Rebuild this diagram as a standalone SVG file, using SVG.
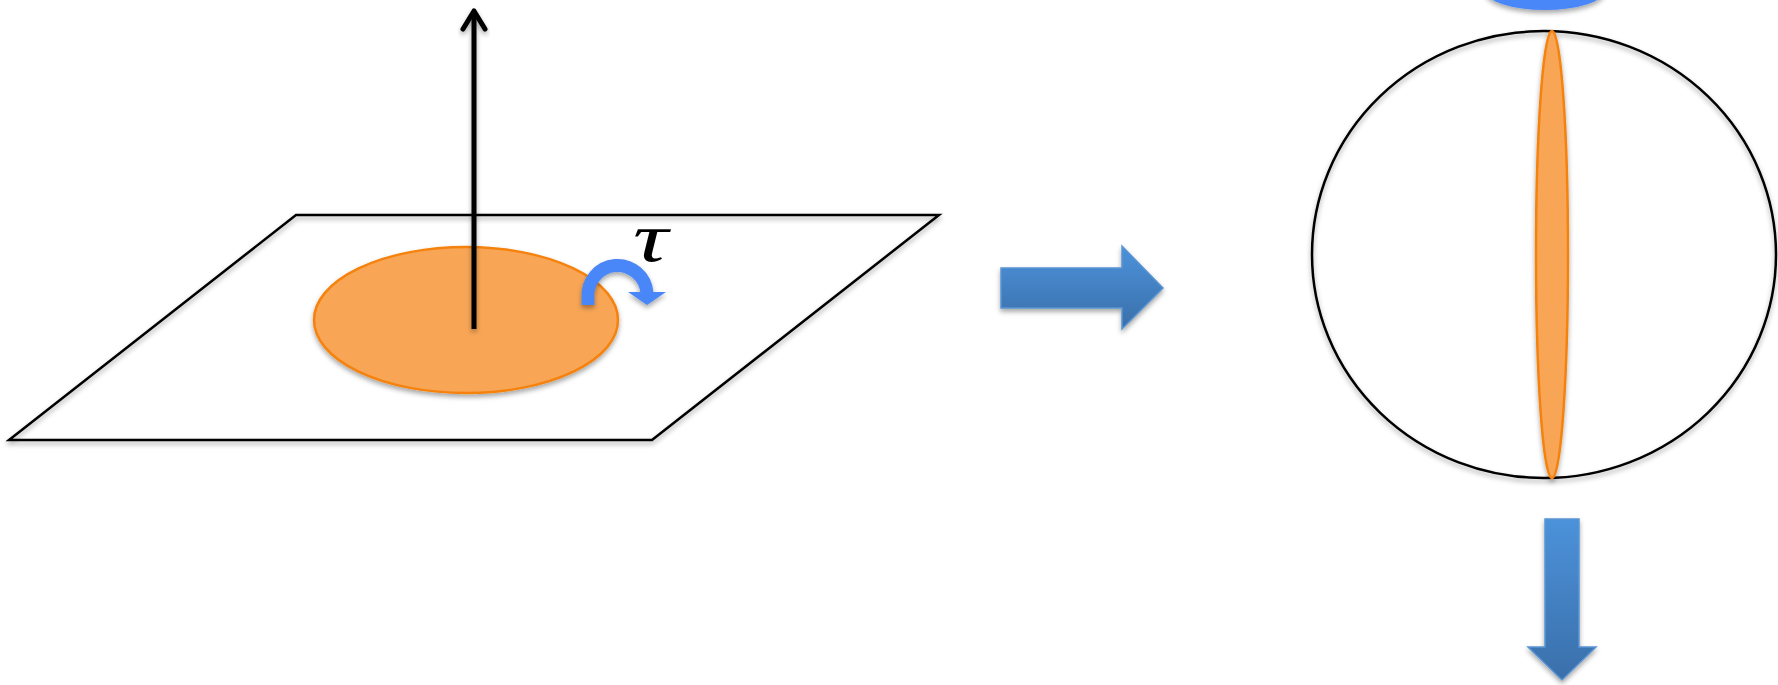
<svg xmlns="http://www.w3.org/2000/svg" width="1778" height="685" viewBox="0 0 1778 685">
<defs>
<style>
.line{fill:none;stroke:#000;stroke-width:2.5;stroke-linejoin:miter}
.orange{fill:#F8A655;stroke:#F5820F;stroke-width:2.5}
.blk{fill:url(#bg);stroke:#5A94D2;stroke-width:1.5}
.sh{filter:url(#ds)}
</style>
<filter id="ds" x="-20%" y="-20%" width="140%" height="140%">
<feDropShadow dx="0" dy="3" stdDeviation="2.5" flood-color="#000" flood-opacity="0.35"/>
</filter>
<linearGradient id="bg" x1="0" y1="0" x2="0" y2="1">
<stop offset="0" stop-color="#4C92DA"/>
<stop offset="1" stop-color="#3A6FAA"/>
</linearGradient>
</defs>
<rect width="1778" height="685" fill="#fff"/>
<g id="plane" class="sh"><polygon class="line" points="296,215 939,215 652,440 9,440"/></g>
<g id="disk" class="sh"><ellipse class="orange" cx="466" cy="320" rx="152" ry="73"/></g>
<g id="axis" class="sh">
<line x1="474" y1="329" x2="474" y2="11" stroke="#000" stroke-width="5"/>
<polyline points="463,29 474,11 485,29" fill="none" stroke="#000" stroke-width="5" stroke-linecap="round" stroke-linejoin="round"/>
</g>
<g id="torque" class="sh">
<path d="M588,305 L588,298 A29.5,30 0 0 1 647,293" fill="none" stroke="#4A86F7" stroke-width="13"/>
<polygon points="628,292 666,292 647,305" fill="#4A86F7"/>
</g>
<g id="tau-label"><text x="633" y="261" font-family="Liberation Serif, serif" font-style="italic" font-size="69" fill="#000" textLength="35" lengthAdjust="spacingAndGlyphs">τ</text></g>
<g id="connectors">
<g id="arrow-right" class="sh"><polygon class="blk" points="1001,268 1122,268 1122,246 1163,288 1122,329 1122,308 1001,308"/></g>
<g id="arrow-down" class="sh"><polygon class="blk" points="1545,519 1579,519 1579,647 1596,647 1562,680 1528,647 1545,647"/></g>
</g>
<g id="top-blob" class="sh"><ellipse cx="1545" cy="-10" rx="60" ry="20" fill="#4A86F7"/></g>
<g id="sphere" class="sh"><ellipse class="line" cx="1544" cy="254.5" rx="232" ry="223.5" fill="#fff"/></g>
<g id="lens" class="sh"><ellipse class="orange" cx="1552" cy="254.5" rx="16" ry="223.5"/></g>
</svg>
